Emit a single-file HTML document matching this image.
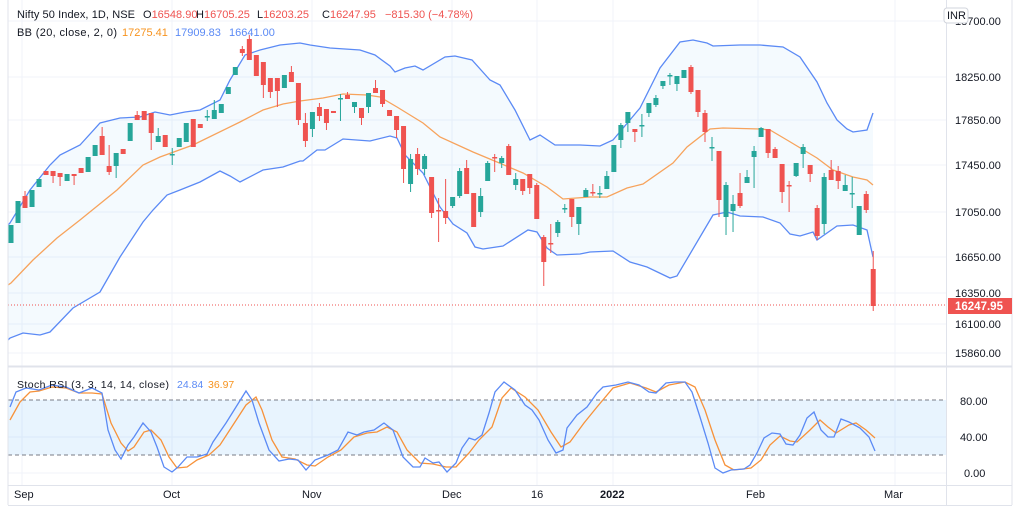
<!DOCTYPE html>
<html><head><meta charset="utf-8"><style>
body{margin:0;background:#fff;width:1024px;height:515px;overflow:hidden;font-family:"Liberation Sans",sans-serif}
svg text{font-family:"Liberation Sans",sans-serif}
</style></head><body>
<svg id="s" width="1024" height="515" xmlns="http://www.w3.org/2000/svg">
<rect width="1024" height="515" fill="#fff"/>
<g stroke="#f0f3fa" stroke-width="1">
<line x1="8" x2="946" y1="21" y2="21"/><line x1="8" x2="946" y1="77" y2="77"/><line x1="8" x2="946" y1="120" y2="120"/><line x1="8" x2="946" y1="165" y2="165"/><line x1="8" x2="946" y1="212" y2="212"/><line x1="8" x2="946" y1="257" y2="257"/><line x1="8" x2="946" y1="293" y2="293"/><line x1="8" x2="946" y1="324" y2="324"/><line x1="8" x2="946" y1="353" y2="353"/>
<line x1="22" x2="22" y1="0" y2="485"/><line x1="172" x2="172" y1="0" y2="485"/><line x1="312" x2="312" y1="0" y2="485"/><line x1="452" x2="452" y1="0" y2="485"/><line x1="537" x2="537" y1="0" y2="485"/><line x1="613" x2="613" y1="0" y2="485"/><line x1="758" x2="758" y1="0" y2="485"/><line x1="895" x2="895" y1="0" y2="485"/>
<line x1="8" x2="946" y1="437" y2="437"/><line x1="8" x2="946" y1="473" y2="473"/>
</g>
<g id="bb"></g>
<rect x="8" y="400" width="938" height="55" fill="#2196f3" fill-opacity="0.1"/>
<line x1="8" x2="946" y1="400" y2="400" stroke="#787b86" stroke-dasharray="4,3"/>
<line x1="8" x2="946" y1="455" y2="455" stroke="#787b86" stroke-dasharray="4,3"/>
<line x1="8" x2="946" y1="305" y2="305" stroke="#ef5350" stroke-dasharray="1,2" stroke-width="1"/>
<g id="c"></g>
<g id="rsi"></g>
<line x1="8" x2="1012" y1="366.5" y2="366.5" stroke="#e0e3eb" stroke-width="2"/>
<line x1="8" x2="1012" y1="485.5" y2="485.5" stroke="#e0e3eb"/>
<line x1="946.5" x2="946.5" y1="0" y2="505" stroke="#e0e3eb"/>
<line x1="8" x2="8" y1="0" y2="505" stroke="#e0e3eb"/>
<line x1="1012" x2="1012" y1="0" y2="505" stroke="#e0e3eb"/>
<line x1="8" x2="1012" y1="505.5" y2="505.5" stroke="#e0e3eb"/>
<g font-size="11" fill="#131722">
<text x="955" y="25">18700.00</text><text x="955" y="81">18250.00</text><text x="955" y="124">17850.00</text><text x="955" y="169">17450.00</text><text x="955" y="216">17050.00</text><text x="955" y="261">16650.00</text><text x="955" y="297">16350.00</text><text x="955" y="328">16100.00</text><text x="955" y="357">15860.00</text>
<text x="960" y="405">80.00</text><text x="960" y="441">40.00</text><text x="964" y="477">0.00</text>
<text x="14" y="498">Sep</text><text x="163" y="498">Oct</text><text x="302" y="498">Nov</text><text x="442" y="498">Dec</text><text x="531" y="498">16</text><text x="600" y="498" font-weight="bold">2022</text><text x="746" y="498">Feb</text><text x="884" y="498">Mar</text>
</g>
<rect x="944" y="8" width="24" height="15" rx="3" fill="#fff" stroke="#d1d4dc"/>
<text x="947" y="19" font-size="11" fill="#131722">INR</text>
<rect x="948" y="298" width="64" height="16" fill="#ef5350"/>
<text x="955" y="310" font-size="11.5" font-weight="bold" fill="#fff">16247.95</text>
<g font-size="11" fill="#131722">
<text x="17" y="18" textLength="118">Nifty 50 Index, 1D, NSE</text>
<text x="143" y="18">O<tspan fill="#ef5350">16548.90</tspan></text>
<text x="196" y="18">H<tspan fill="#ef5350">16705.25</tspan></text>
<text x="257" y="18">L<tspan fill="#ef5350">16203.25</tspan></text>
<text x="322" y="18">C<tspan fill="#ef5350">16247.95</tspan></text>
<text x="385" y="18" fill="#ef5350">−815.30 (−4.78%)</text>
<text x="17" y="36" textLength="100">BB (20, close, 2, 0)</text>
<text x="122" y="36" fill="#f7931e">17275.41</text>
<text x="175" y="36" fill="#5b8af5">17909.83</text>
<text x="229" y="36" fill="#5b8af5">16641.00</text>
<text x="17" y="388" font-size="10.5" textLength="152">Stoch RSI (3, 3, 14, 14, close)</text>
<text x="177" y="388" font-size="10.5" fill="#5b8af5">24.84</text>
<text x="208" y="388" font-size="10.5" fill="#f7931e">36.97</text>
</g>
</svg>
<script>
var NS="http://www.w3.org/2000/svg";
function el(p,t,a){var e=document.createElementNS(NS,t);for(var k in a)e.setAttribute(k,a[k]);p.appendChild(e);return e;}
function pts(a){var s="";for(var i=0;i<a.length;i+=2)s+=a[i]+","+a[i+1]+" ";return s;}
var up=[8,225,10,223,30,190,50,165,60,155,80,145,100,123,120,118,140,117,155,112,170,115,185,112,200,110,220,100,230,80,245,55,260,50,280,45,300,43,310,45,330,48,360,50,375,55,390,66,395,72,405,68,415,66,423,70,445,57,455,56,472,60,490,80,500,85,515,110,530,140,540,135,555,145,580,145,600,146,613,140,640,108,660,68,680,42,693,40,707,43,713,46,740,45,760,45,783,47,800,57,817,82,827,103,837,120,847,129,853,132,867,130,873,113];
var mid=[8,285,11,283,33,260,57,238,80,220,117,190,143,165,160,157,193,145,240,122,263,110,283,104,300,101,323,98,343,94,367,95,380,97,397,107,423,123,440,137,473,152,497,162,523,173,547,187,563,199,590,197,607,197,627,188,643,184,673,163,687,147,710,129,723,128,760,129,770,130,787,140,817,158,833,170,853,177,867,180,873,185];
var lo=[8,340,10,338,23,333,40,335,50,332,73,308,100,292,120,257,143,222,153,210,167,195,180,190,200,182,220,171,230,176,240,182,263,170,283,167,300,161,303,161,317,150,325,150,343,139,370,141,390,136,397,138,405,155,423,173,440,207,453,224,467,233,475,247,483,249,503,246,528,230,537,232,547,248,557,255,580,254,590,252,613,251,630,262,647,267,670,278,677,276,713,215,727,212,740,216,763,217,780,223,790,234,800,236,813,232,817,240,837,226,853,225,867,230,873,257];
var bb=document.getElementById("bb");
var rl=[];for(var i=lo.length-2;i>=0;i-=2)rl.push(lo[i],lo[i+1]);
el(bb,"polygon",{points:pts(up.concat(rl)),fill:"#2196f3","fill-opacity":"0.05"});
el(bb,"polyline",{points:pts(up),fill:"none",stroke:"#5b8af5","stroke-width":"1.3"});
el(bb,"polyline",{points:pts(lo),fill:"none",stroke:"#5b8af5","stroke-width":"1.3"});
el(bb,"polyline",{points:pts(mid),fill:"none",stroke:"#f7a35c","stroke-width":"1.3"});
var C=[[225,243,1],[201,223,1],[196,208,0,191,208],[190,207,1],[179,187,1],[171,175,0],[171,176,0,171,183],[173,177,0,173,186],[174,181,1],[174,176,0,174,185],[168,173,0],[157,172,1],[145,156,1],[136,155,0,127,155],[166,172,0,145,175],[153,166,1,153,178],[149,154,0],[123,141,1],[115,120,0,111,120],[111,120,0],[113,133,0,113,150],[136,142,1,128,142],[135,147,0],[154,155,1,148,165],[138,147,1],[123,142,1],[119,147,0],[124,128,0],[116,117,1,110,121],[110,119,1,100,119],[104,113,1],[87,94,1],[67,75,1],[49,53,0,46,56],[39,60,0,35,60],[55,76,0],[62,85,0,62,98],[78,92,0,78,98],[78,91,0,78,107],[75,88,1],[72,82,0,66,82],[83,120,0,83,125],[123,141,0,113,147],[112,129,1,112,137],[107,116,0,103,121],[109,123,0,109,130],[111,113,0],[98,99,1,94,121],[95,99,0,92,99],[102,107,1,102,113],[108,118,0,108,125],[93,107,1,93,113],[88,93,0,80,93],[90,104,0,90,107],[110,116,0],[116,130,0,116,138],[126,169,0,126,183],[159,184,1,154,192],[154,169,0,148,175],[156,169,1,154,175],[177,213,0,177,218],[210,211,0,198,242],[211,218,0,179,224],[197,206,1,197,208],[171,196,1,168,198],[168,194,0,160,194],[193,227,0],[196,212,1,188,217],[163,181,1,161,181],[157,158,0,154,172],[158,163,1,156,168],[146,175,0,144,175],[179,185,1,173,190],[179,191,0,179,195],[174,188,0,174,194],[185,219,0,183,219],[237,262,0,235,286],[243,244,0,224,253],[222,233,1,220,237],[208,209,1,204,213],[199,217,0,199,227],[207,224,1,207,235],[190,197,1,188,197],[192,193,0,184,196],[193,194,1,186,198],[176,189,1,171,189],[145,172,1],[125,140,1,123,148],[112,123,1,112,132],[129,132,0,129,142],[125,126,1,114,137],[103,113,1,103,117],[98,105,1,95,107],[81,86,1,81,89],[75,76,1,73,85],[76,84,1,76,91],[70,78,1],[67,92,0,65,94],[90,112,0,90,117],[113,132,0,110,142],[147,148,1,137,161],[151,200,0,151,217],[185,217,1,182,235],[204,211,1,195,232],[193,206,0,173,208],[177,183,1,170,183],[151,157,1,146,188],[128,137,1,127,137],[129,153,0,129,158],[149,158,0,147,158],[164,192,0,164,203],[185,186,0,181,212],[163,176,1,163,177],[147,154,1,144,168],[165,174,0,165,182],[208,236,0,205,240],[177,224,1,173,234],[170,180,0,160,180],[171,181,0,166,189],[185,191,1,175,191],[193,194,1,177,208],[206,235,1],[194,210,0,191,213],[269,306,0,251,311]];
var g=document.getElementById("c");
for(var i=0;i<C.length;i++){var d=C[i],x=11+i*7.01,col=d[2]?"#26a69a":"#ef5350";
var wt=d.length>3?d[3]:d[0],wb=d.length>4?d[4]:d[1];
el(g,"line",{x1:x,x2:x,y1:wt,y2:wb,stroke:col,"stroke-width":"1"});
var h=Math.max(1.5,d[1]-d[0]);el(g,"rect",{x:x-2.5,y:d[0],width:5,height:h,fill:col});}
var K=[10,407,16,392,26,388,39,390,52,385,66,387,79,393,92,388,102,393,108,430,115,450,121,459,128,445,134,437,143,423,151,432,157,447,164,467,172,472,178,467,187,457,197,457,207,454,213,442,226,423,236,407,246,391,252,400,259,423,269,450,279,461,289,459,298,460,306,470,315,460,328,455,338,450,348,432,357,435,364,432,374,430,384,423,393,430,403,457,413,467,420,467,425,458,433,463,439,462,447,472,456,463,462,448,469,438,475,440,482,435,489,413,495,392,504,382,515,390,525,405,532,410,539,420,548,440,556,453,563,450,567,428,577,415,587,407,597,393,603,387,616,385,628,382,639,385,649,392,656,393,666,383,675,382,685,382,692,392,700,417,708,443,715,468,723,473,731,470,744,469,750,465,757,453,764,438,772,433,780,434,786,444,793,445,800,435,807,418,814,412,821,430,828,437,834,437,841,419,849,422,860,428,869,437,875,451];
var D=[10,420,20,402,30,392,39,391,52,387,66,388,79,393,92,393,102,394,111,423,121,443,128,451,134,447,144,432,151,430,161,440,169,457,177,468,187,467,197,460,209,455,220,445,233,425,246,405,256,397,262,410,272,440,282,457,295,459,307,465,315,466,328,457,341,450,354,437,367,433,377,432,387,427,397,432,407,450,420,463,433,464,446,467,456,467,469,453,479,440,492,427,502,398,511,388,525,397,538,410,551,432,561,447,570,442,584,423,597,407,613,388,630,383,646,388,656,392,669,385,685,382,695,387,705,410,715,440,725,465,734,470,751,468,761,460,770,445,780,436,790,441,797,442,810,430,820,420,828,427,836,433,849,425,856,423,866,430,875,438];
var r=document.getElementById("rsi");
el(r,"polyline",{points:pts(D),fill:"none",stroke:"#f7923a","stroke-width":"1.3"});
el(r,"polyline",{points:pts(K),fill:"none",stroke:"#5b8af5","stroke-width":"1.3"});
</script>
</body></html>
